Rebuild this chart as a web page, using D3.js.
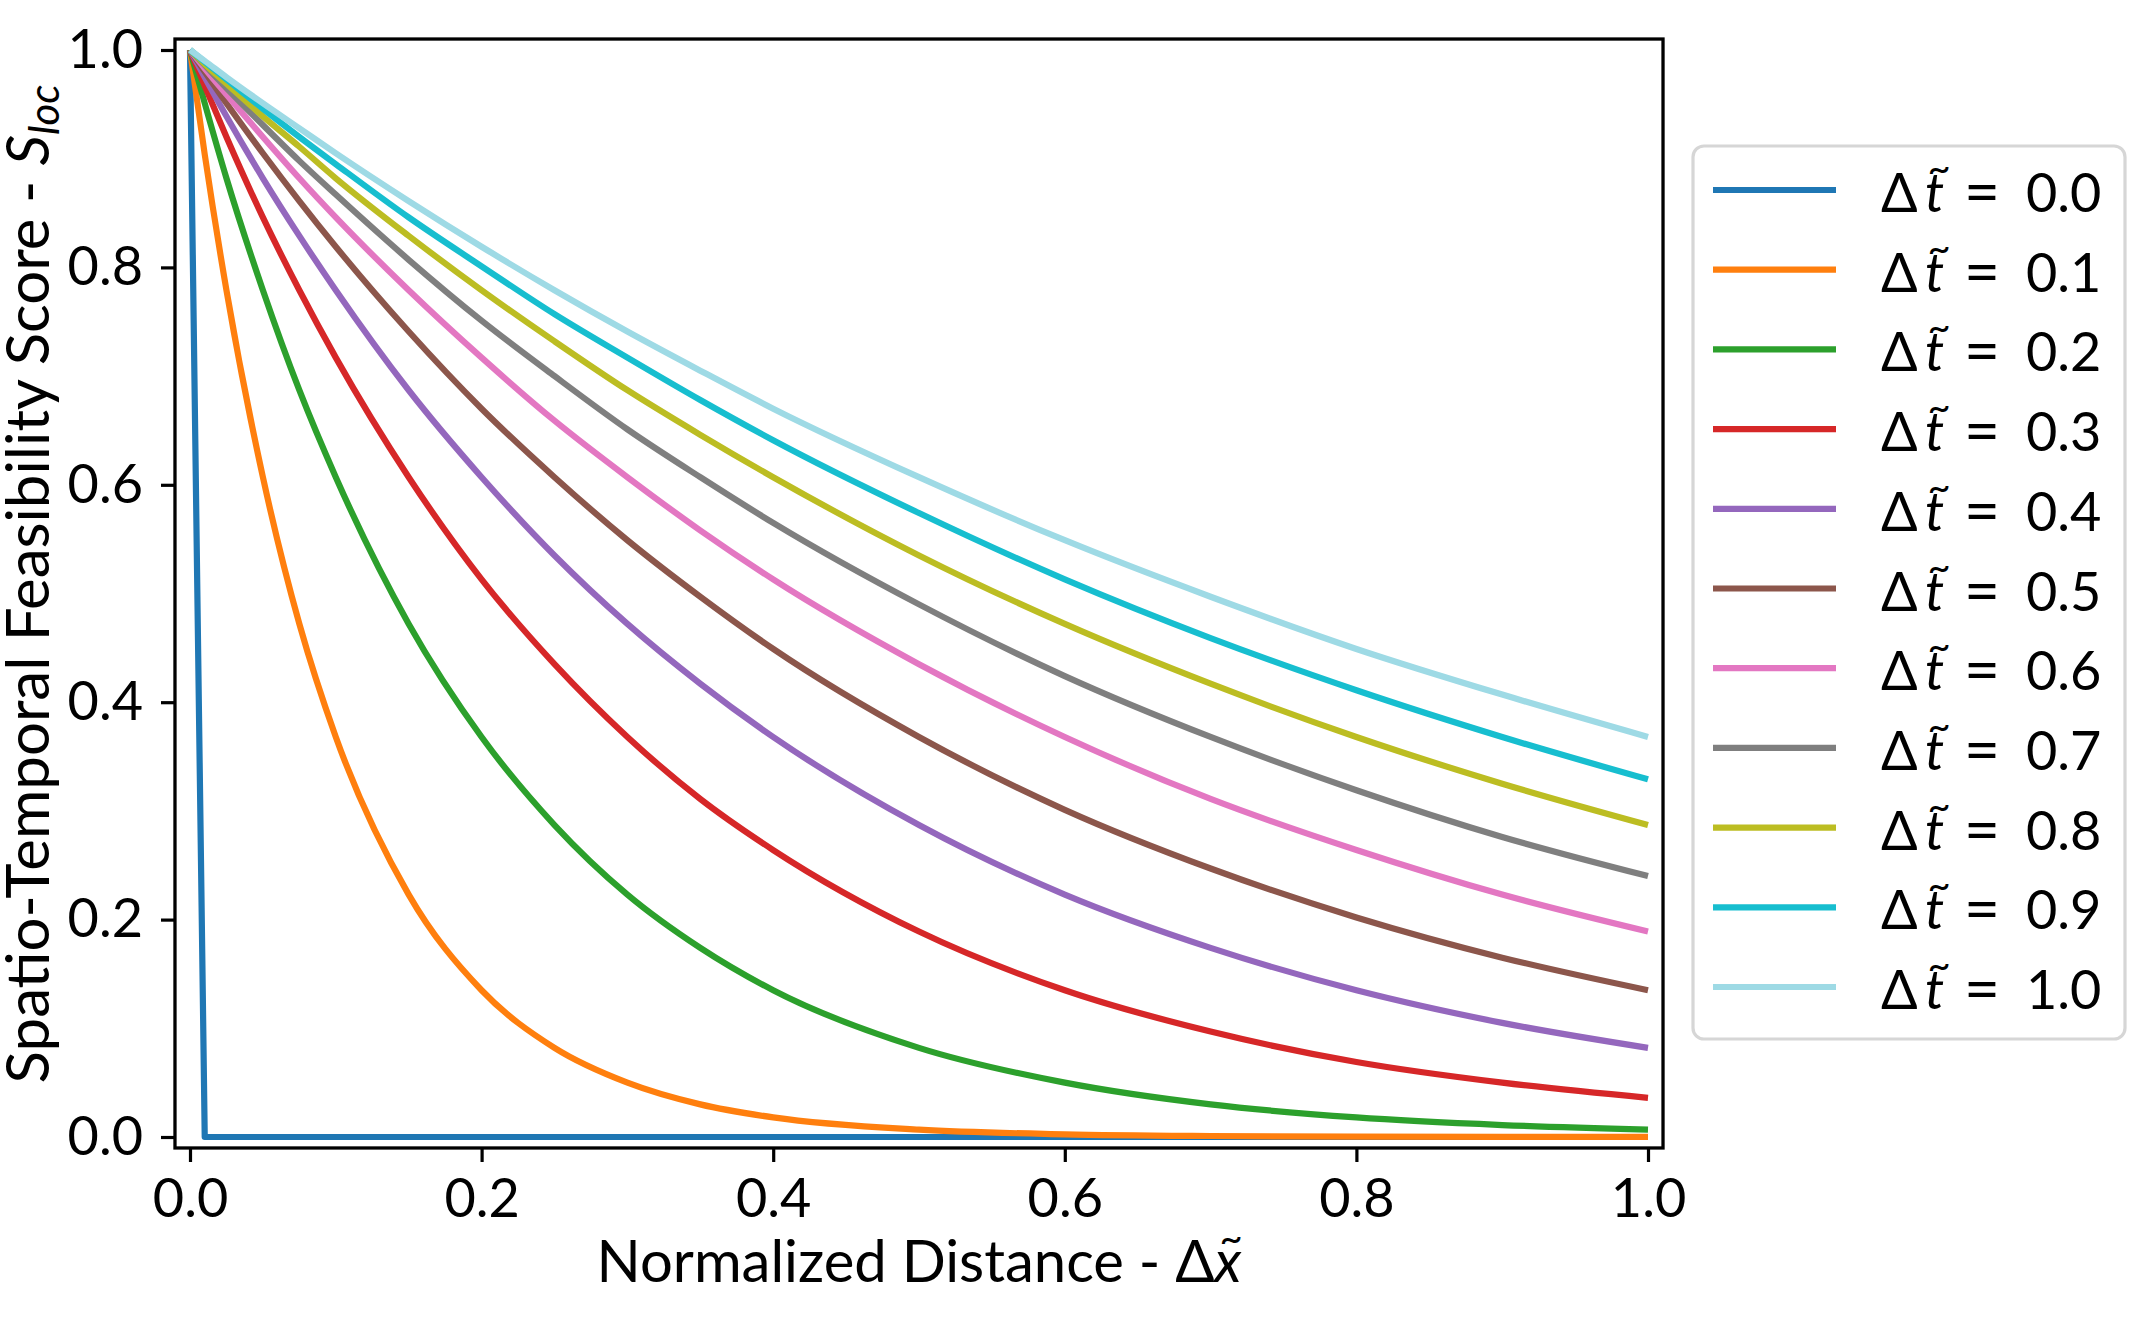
<!DOCTYPE html>
<html><head><meta charset="utf-8">
<script src="https://cdn.jsdelivr.net/npm/d3@7"></script>
<style>body{margin:0;background:#fff}</style>
</head><body><svg id="c" width="2155" height="1324" xmlns="http://www.w3.org/2000/svg"></svg>
<script>
// ---- data ----
const xSamples = [0, 0.0101, 0.025, 0.05, 0.075, 0.1, 0.15, 0.2, 0.25, 0.3, 0.35, 0.4, 0.5, 0.6, 0.7, 0.8, 0.9, 1.0];
const tLabels = ["0.0","0.1","0.2","0.3","0.4","0.5","0.6","0.7","0.8","0.9","1.0"];
const s00 = [1, 0, 0, 0, 0, 0, 0, 0, 0, 0, 0, 0, 0, 0, 0, 0, 0, 0];
const s01 = [1, 0.904, 0.779, 0.607, 0.472, 0.368, 0.223, 0.135, 0.082, 0.050, 0.030, 0.018, 0.0067, 0.0025, 0.0009, 0.0003, 0.0001, 0.00005];
const s02 = [1, 0.951, 0.882, 0.779, 0.687, 0.607, 0.472, 0.368, 0.287, 0.223, 0.174, 0.135, 0.082, 0.050, 0.030, 0.018, 0.011, 0.0067];
const s03 = [1, 0.967, 0.920, 0.846, 0.779, 0.717, 0.607, 0.513, 0.435, 0.368, 0.311, 0.264, 0.189, 0.135, 0.097, 0.069, 0.050, 0.036];
const s04 = [1, 0.975, 0.939, 0.882, 0.829, 0.779, 0.687, 0.607, 0.535, 0.472, 0.417, 0.368, 0.287, 0.223, 0.174, 0.135, 0.105, 0.082];
const s05 = [1, 0.980, 0.951, 0.905, 0.861, 0.819, 0.741, 0.670, 0.607, 0.549, 0.497, 0.449, 0.368, 0.301, 0.247, 0.202, 0.165, 0.135];
const s06 = [1, 0.983, 0.959, 0.920, 0.882, 0.846, 0.779, 0.717, 0.659, 0.607, 0.558, 0.513, 0.435, 0.368, 0.311, 0.264, 0.223, 0.189];
const s07 = [1, 0.986, 0.965, 0.931, 0.898, 0.867, 0.807, 0.751, 0.700, 0.651, 0.607, 0.565, 0.490, 0.424, 0.368, 0.319, 0.276, 0.240];
const s08 = [1, 0.987, 0.969, 0.939, 0.911, 0.882, 0.829, 0.779, 0.732, 0.687, 0.646, 0.607, 0.535, 0.472, 0.417, 0.368, 0.325, 0.287];
const s09 = [1, 0.989, 0.973, 0.946, 0.920, 0.895, 0.846, 0.801, 0.757, 0.717, 0.678, 0.641, 0.574, 0.513, 0.459, 0.411, 0.368, 0.329];
const s10 = [1, 0.990, 0.975, 0.951, 0.928, 0.905, 0.861, 0.819, 0.779, 0.741, 0.705, 0.670, 0.607, 0.549, 0.497, 0.449, 0.407, 0.368];
const seriesValues = [s00, s01, s02, s03, s04, s05, s06, s07, s08, s09, s10];
const colors = ["#1f77b4","#ff7f0e","#2ca02c","#d62728","#9467bd","#8c564b","#e377c2","#7f7f7f","#bcbd22","#17becf","#9edae5"];
const xTicks = [0, 0.2, 0.4, 0.6, 0.8, 1.0];
const yTicks = [0, 0.2, 0.4, 0.6, 0.8, 1.0];

// ---- layout ----
const FONT = "Lato, 'Open Sans', sans-serif";
const FS = 54;     // tick / legend text
const FSL = 58;    // x label
const FSY = 60;    // y label
const svg = d3.select("#c");
const x = d3.scaleLinear().domain([0, 1]).range([190, 1648]);
const y = d3.scaleLinear().domain([0, 1]).range([1137, 50]);
const padX = 0.0103, padY = 0.0101;
const L = x(-padX), R = x(1 + padX), T = y(1 + padY), B = y(-padY);

svg.append("rect").attr("width", 2155).attr("height", 1324).attr("fill", "#fff");

// lines
const mkLine = curve => d3.line().x((d, i) => x(xSamples[i])).y(d => y(d)).curve(curve);
svg.append("defs").append("clipPath").attr("id", "clip")
  .append("rect").attr("x", L).attr("y", T).attr("width", R - L).attr("height", B - T);
const gl = svg.append("g").attr("clip-path", "url(#clip)");
seriesValues.forEach((vals, k) => {
  const hasStep = vals[1] === 0;
  gl.append("path").attr("d", mkLine(hasStep ? d3.curveLinear : d3.curveMonotoneX)(vals)).attr("fill", "none")
    .attr("stroke", colors[k]).attr("stroke-width", 6.2)
    .attr("stroke-linejoin", "round").attr("stroke-linecap", "butt");
});

// axes
const xAxis = d3.axisBottom(x).tickValues(xTicks).tickFormat(d3.format(".1f")).tickSize(14).tickPadding(17).tickSizeOuter(0);
const yAxis = d3.axisLeft(y).tickValues(yTicks).tickFormat(d3.format(".1f")).tickSize(14).tickPadding(18).tickSizeOuter(0);
const gx = svg.append("g").attr("transform", `translate(0,${B})`).call(xAxis);
const gy = svg.append("g").attr("transform", `translate(${L},0)`).call(yAxis);
[gx, gy].forEach(g => {
  g.select(".domain").remove();
  g.selectAll(".tick line").attr("stroke", "#000").attr("stroke-width", 3.2);
  g.selectAll(".tick text").attr("fill", "#000").attr("font-family", FONT).attr("font-size", FS);
});

// frame
svg.append("rect").attr("x", L).attr("y", T).attr("width", R - L).attr("height", B - T)
  .attr("fill", "none").attr("stroke", "#000").attr("stroke-width", 3.3);

// x label
const xl = svg.append("text").attr("x", (L + R) / 2).attr("y", 1282).attr("text-anchor", "middle")
  .attr("font-family", FONT).attr("font-size", FSL).attr("fill", "#000");
xl.append("tspan").text("Normalized Distance - Δ");
const xv = xl.append("tspan").attr("font-style", "italic").text("x");
const xb = xl.node().getBBox();
const xvLen = xv.node().getComputedTextLength();
svg.append("text").attr("x", xb.x + xb.width - xvLen / 2 + 2).attr("y", 1282 - 30)
  .attr("text-anchor", "middle").attr("font-family", FONT).attr("font-size", 40).attr("fill", "#000").text("~");

// y label
const yl = svg.append("text").attr("transform", "translate(49,584) rotate(-90)").attr("text-anchor", "middle")
  .attr("font-family", FONT).attr("font-size", FSY).attr("fill", "#000");
yl.append("tspan").text("Spatio-Temporal Feasibility Score - ");
yl.append("tspan").attr("font-style", "italic").text("S");
yl.append("tspan").attr("font-style", "italic").attr("font-size", FSY * 0.7).attr("dy", 10).text("loc");

// legend
const lg = svg.append("g").attr("transform", "translate(1693,146)");
lg.append("rect").attr("width", 432).attr("height", 893).attr("rx", 11).attr("ry", 11)
  .attr("fill", "#fff").attr("stroke", "#d6d6d6").attr("stroke-width", 3.2);
tLabels.forEach((lab, k) => {
  const yy = 44 + k * 79.7;
  const e = lg.append("g").attr("transform", `translate(0,${yy})`);
  e.append("line").attr("x1", 20).attr("x2", 143).attr("y1", 0).attr("y2", 0)
    .attr("stroke", colors[k]).attr("stroke-width", 6.2);
  const txt = (xx, s, extra) => {
    const t = e.append("text").attr("x", xx).attr("y", 22).attr("font-family", FONT)
      .attr("font-size", FS).attr("fill", "#000").text(s);
    if (extra) extra(t);
    return t;
  };
  txt(188, "Δ");
  txt(232, "t", t => t.attr("font-style", "italic"));
  txt(246, "~", t => t.attr("y", -8).attr("font-size", 40).attr("text-anchor", "middle"));
  txt(271, "=", t => t.attr("font-size", FS * 1.15).attr("y", 24));
  txt(333, lab);
});
</script>
</body></html>
